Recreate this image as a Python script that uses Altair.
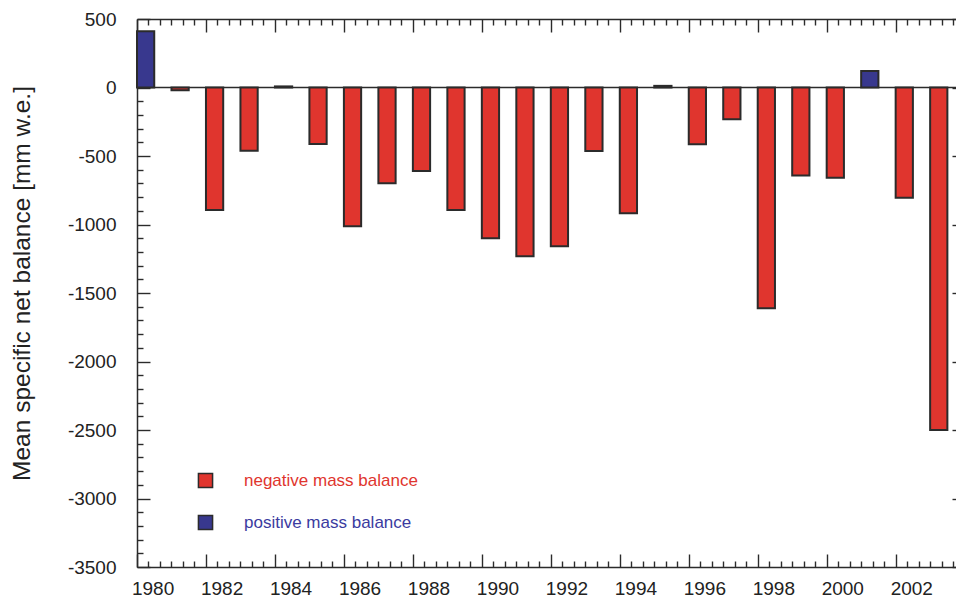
import altair as alt
import pandas as pd

# Annual mean specific net balance, 1980-2003 (mm water equivalent)
years = list(range(1980, 2004))
balance = [410, -20, -895, -462, 8, -413, -1012, -698, -610, -895,
           -1100, -1231, -1158, -464, -917, 12, -415, -232, -1611, -642,
           -659, 120, -805, -2500]

y_ticks = list(range(-3500, 501, 500))
y_minor = [v for v in range(-3500, 501, 100) if v % 500 != 0]
x_labels = list(range(1980, 2003, 2))
x_major = [1979.75 + 2 * k for k in range(12)]
x_minor = [1979.75 + k / 3 for k in range(72) if k % 6 != 0]

NEG_LABEL = "negative mass balance"
POS_LABEL = "positive mass balance"
RED = "#e0352e"
BLUE = "#38388e"
INK = "#2b2b2b"
FONT = "Liberation Sans"

W, H = 819, 548
X_DOMAIN = [1979.75, 2003.5]
Y_DOMAIN = [-3500, 500]

df = pd.DataFrame({"year": years, "balance": balance})
df["kind"] = [NEG_LABEL if v < 0 else POS_LABEL for v in balance]
df["left"] = df["year"] - 0.25
df["right"] = df["year"] + 0.25

xs = alt.Scale(domain=X_DOMAIN, nice=False, zero=False)
ys = alt.Scale(domain=Y_DOMAIN, nice=False, zero=False)

base = alt.Chart(df)


def tick_axis(orient, offset, values, size, domain=False):
    return alt.Axis(orient=orient, offset=offset, values=values, tickSize=size,
                    labels=False, title=None, domain=domain, ticks=True,
                    tickColor=INK, tickWidth=1.4, domainColor=INK,
                    domainWidth=1.5, grid=False)


def tick_layer(x_axis, y_axis):
    return base.mark_point(opacity=0).encode(
        x=alt.X("year:Q", scale=xs, axis=x_axis),
        y=alt.Y("balance:Q", scale=ys, axis=y_axis),
    )


def legend(label_color, y):
    return alt.Legend(orient="none", legendX=60, legendY=y, title=None,
                      symbolType="square", symbolSize=200,
                      symbolStrokeColor=INK, symbolStrokeWidth=1.5,
                      labelColor=label_color, labelFontSize=17, labelFont=FONT,
                      labelOffset=30, labelLimit=500, padding=0)


x_label_axis = alt.Axis(orient="bottom", values=x_labels, ticks=False,
                        labelPadding=12, labelOffset=7, labelFontSize=19,
                        labelFont=FONT, labelColor="#222", labelExpr="datum.value + ''",
                        domain=True, domainColor=INK, domainWidth=1.5,
                        grid=False, title=None)
y_label_axis = alt.Axis(orient="left", values=y_ticks, ticks=False,
                        labelPadding=21, labelFontSize=19, labelFont=FONT,
                        labelColor="#222", labelExpr="datum.value + ''",
                        domain=True, domainColor=INK, domainWidth=1.5,
                        grid=False, title="Mean specific net balance [mm w.e.]",
                        titleFont=FONT, titleFontSize=24.5, titleFontWeight="normal",
                        titleColor="#222", titleX=-115, titleY=264,
                        titleAlign="center", titleBaseline="middle")

zero_line = alt.Chart(pd.DataFrame({"v": [0]})).mark_rule(
    color=INK, strokeWidth=1.4
).encode(y=alt.Y("v:Q", scale=ys, axis=None))

neg_bars = base.transform_filter("datum.balance < 0").mark_bar(
    stroke=INK, strokeWidth=2
).encode(
    x=alt.X("left:Q", scale=xs, axis=x_label_axis),
    x2="right:Q",
    y=alt.Y("balance:Q", scale=ys, axis=y_label_axis),
    y2=alt.datum(0),
    color=alt.Color("kind:N", scale=alt.Scale(domain=[NEG_LABEL], range=[RED]),
                    legend=legend(RED, 453)),
)

pos_bars = base.transform_filter("datum.balance >= 0").mark_bar(
    stroke=INK, strokeWidth=2
).encode(
    x=alt.X("left:Q", scale=xs, axis=None),
    x2="right:Q",
    y=alt.Y("balance:Q", scale=ys, axis=None),
    y2=alt.datum(0),
    color=alt.Color("kind:N", scale=alt.Scale(domain=[POS_LABEL], range=[BLUE]),
                    legend=legend("#3b3ba0", 495)),
)

# inward ticks on all four sides of the frame
bottom_left_major = tick_layer(tick_axis("top", -H, x_major, 13),
                               tick_axis("right", -W, y_ticks, 13))
bottom_left_minor = tick_layer(tick_axis("top", -H, x_minor, 6),
                               tick_axis("right", -W, y_minor, 6))
top_right_major = tick_layer(tick_axis("bottom", -H, x_major, 13, domain=True),
                             tick_axis("left", -(W + 9), y_ticks, 13))
top_right_minor = tick_layer(tick_axis("bottom", -H, x_minor, 6),
                             tick_axis("left", -(W + 9), y_minor, 6))

chart = alt.layer(
    zero_line, neg_bars, pos_bars,
    bottom_left_major, bottom_left_minor, top_right_major, top_right_minor,
).resolve_scale(
    color="independent"
).resolve_axis(
    x="independent", y="independent"
).properties(
    width=W, height=H,
    autosize=alt.AutoSizeParams(type="none"),
    padding={"left": 137, "top": 19, "right": 0, "bottom": 34},
    background="white",
).configure_view(stroke=None)

chart.save("out.html", embed_options={"renderer": "svg", "actions": False})
